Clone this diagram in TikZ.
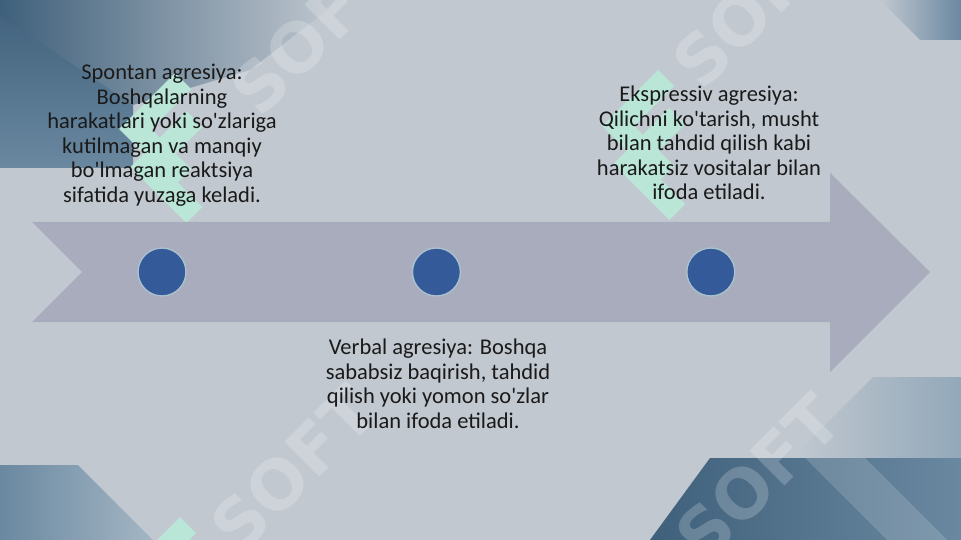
\documentclass[tikz,border=0pt]{standalone}
\usepackage{fontspec}
\setmainfont{Carlito}
\newfontfamily\markfont{DejaVu Sans}
\usetikzlibrary{positioning}

\definecolor{slidebg}{HTML}{C1C8D0}
\definecolor{arrowgray}{HTML}{A8ACBC}
\definecolor{dotblue}{HTML}{355A99}
\definecolor{dotrim}{HTML}{A9C2CE}
\definecolor{deepblue}{HTML}{3F607B}
\definecolor{midblue}{HTML}{6A88A0}
\definecolor{paleblue}{HTML}{A4B6C4}
\definecolor{mint}{HTML}{B9E6D7}
\definecolor{inktext}{HTML}{1A1A1A}

\begin{document}
\begin{tikzpicture}[x=1pt, y=-1pt, node distance=225pt,
  dot/.style={circle, fill=dotblue, draw=dotrim, line width=1.4pt, minimum size=48pt, inner sep=0pt},
  desc/.style={align=center, inner sep=0pt, text=inktext, font=\fontsize{22.5}{24.5}\selectfont},
  wmark/.style={white, opacity=0.2, rotate=45, anchor=base west, inner sep=0pt, font=\markfont\bfseries\fontsize{68}{68}\selectfont},
  mintlogo/.style={fill=mint}]

% background
\fill[slidebg] (0,0) rectangle (961,540);
\useasboundingbox (0,0) rectangle (961,540);

% corners
\shade[top color=deepblue, bottom color=midblue] (0,0) rectangle (133,168);
\shade[left color=deepblue, right color=slidebg] (0,0) -- (340,0) -- (250,70) -- (133,105) -- (0,15) -- cycle;
\shade[left color=slidebg, right color=midblue] (880,0) -- (961,0) -- (961,40) -- (920,40) -- cycle;
\shade[left color=midblue, right color=paleblue] (0,465) -- (78,465) -- (153,540) -- (0,540) -- cycle;
\shade[left color=slidebg, right color=paleblue!70!midblue] (873,377) -- (961,377) -- (961,458) -- (792,458) -- cycle;
\shade[left color=deepblue, right color=midblue] (710,458) -- (961,458) -- (961,540) -- (650,540) -- cycle;
\fill[white, opacity=0.15] (805,458) -- (865,458) -- (947,540) -- (887,540) -- cycle;

% watermarks
\foreach \x/\y in {167/148, 650/145, 172/592}
  \foreach \d in {0,38}
    \fill[mintlogo, shift={(\x+\d*0.3,\y+\d)}] (8,-75) -- (24,-59) -- (-16,-19) -- (24,21) -- (8,37) -- (-48,-19) -- cycle;
\foreach \x/\y in {260/120, 702/93, 240/557, 705/566}
  \node[wmark] (soft-\x) at (\x,\y) {SOFT};

% arrow
\fill[arrowgray] (32,222) -- (830,222) -- (830,173) -- (930,272) -- (830,372) -- (830,322) -- (32,322) -- (82,272) -- cycle;

% points on the arrow
\node[dot] (spontan dot) at (162,272) {};
\node[dot, right=of spontan dot] (verbal dot) {};
\node[dot, right=of verbal dot] (ekspressiv dot) {};

% texts
\node[desc, anchor=north] (spontan) at (162,64) {Spontan agresiya:\\ Boshqalarning\\ harakatlari yoki so\textquotesingle zlariga\\ kutilmagan va manqiy\\ bo\textquotesingle lmagan reaktsiya\\ sifatida yuzaga keladi.};
\node[desc, anchor=north] (verbal) at (438,339) {Verbal agresiya: Boshqa\\ sababsiz baqirish, tahdid\\ qilish yoki yomon so\textquotesingle zlar\\ bilan ifoda etiladi.};
\node[desc, anchor=north] (ekspressiv) at (709,86) {Ekspressiv agresiya:\\ Qilichni ko\textquotesingle tarish, musht\\ bilan tahdid qilish kabi\\ harakatsiz vositalar bilan\\ ifoda etiladi.};

\end{tikzpicture}
\end{document}
